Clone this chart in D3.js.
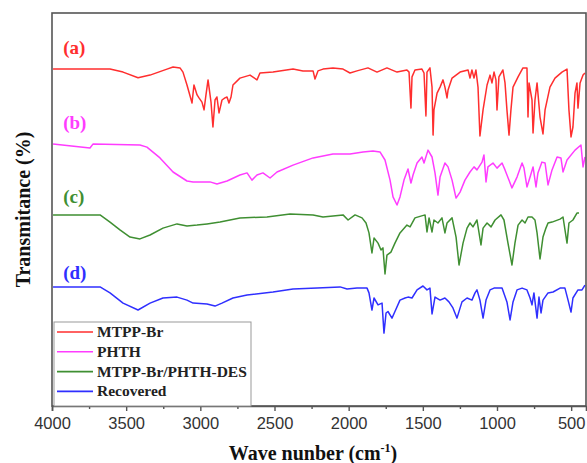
<!DOCTYPE html>
<html>
<head>
<meta charset="utf-8">
<script src="https://cdn.jsdelivr.net/npm/d3@7"></script>
<style>
  html, body { margin: 0; padding: 0; background: #fff; }
  svg { display: block; }
</style>
</head>
<body>
<svg id="chart" width="587" height="463"></svg>
<script>
// ---- Data (wavenumber cm-1, transmittance in arbitrary stacked units) ----
const seriesNames = ["MTPP-Br", "PHTH", "MTPP-Br/PHTH-DES", "Recovered"];
const seriesLetters = ["(a)", "(b)", "(c)", "(d)"];
const seriesColors = ["#ff2e2e", "#ff3cff", "#3f8f32", "#2f2fff"];
const majorTicks = [4000, 3500, 3000, 2500, 2000, 1500, 1000, 500];
const minorTicks = [3750, 3250, 2750, 2250, 1750, 1250, 750];

const mtppBr = [
  [3993,112.3],[3676,112.3],[3609,112.3],[3521,111.3],[3420,109.4],[3339,110.3],[3225,112.3],
  [3184,113],[3137,112.7],[3117,111.3],[3090,107],[3056,101],[3043,107],[3022,103.7],[3009,102.7],
  [2989,101.3],[2975,98.7],[2962,103.7],[2948,108.7],[2928,101.3],[2915,93],[2901,102],[2888,103],
  [2874,97.7],[2854,102],[2834,102.7],[2820,103],[2807,101],[2793,103],[2780,107],[2733,109.3],
  [2665,110.3],[2618,108.7],[2598,111],[2510,111.3],[2375,112.3],[2308,111.7],[2240,111.7],
  [2227,109],[2207,111.7],[2173,112.3],[2106,112.7],[2038,112.3],[1991,111],[1944,111.7],
  [1870,112.7],[1809,111.3],[1742,112.7],[1674,111.3],[1607,112],[1593,111.3],[1580,99.3],
  [1573,109.7],[1553,112],[1506,112.3],[1492,111],[1479,96.7],[1472,111.3],[1452,112.7],
  [1438,106.3],[1431,90.3],[1425,98.7],[1404,104.3],[1384,106.3],[1364,108.7],[1351,106.3],
  [1337,102.7],[1330,105.3],[1303,109.3],[1249,111.3],[1195,112],[1182,109.3],[1169,112],
  [1155,109.3],[1142,112],[1128,106.3],[1115,90],[1094,98.7],[1067,107],[1047,110.3],[1034,107.7],
  [1020,111.3],[1007,108.7],[1000,98.7],[987,109.7],[960,112],[946,107.7],[933,98.7],[919,90.3],
  [906,98.7],[892,106.3],[858,109.7],[825,112.7],[798,112.7],[791,96.3],[784,107.7],[764,102],
  [757,91],[744,102],[730,107.7],[710,96.3],[690,90.7],[676,98.7],[643,106.3],[609,109.3],
  [562,111.3],[528,112.3],[515,98.7],[501,89.7],[488,93],[474,104.3],[461,107.7],[454,99.3],
  [440,107.7],[420,110.3],[407,111]
];

const phth = [
  [3993,87.3],[3744,86],[3724,87.3],[3407,87],[3360,86.3],[3272,82.7],[3184,78],[3090,75],
  [3049,74.7],[3002,74.7],[2935,74.7],[2888,74],[2820,75],[2733,77],[2685,77.7],[2652,75.3],
  [2618,77],[2578,77.7],[2530,76],[2483,78],[2375,80.3],[2240,82.7],[2106,84],[1991,84],
  [1903,84.7],[1836,85],[1789,84.7],[1755,82],[1721,75.3],[1701,69.7],[1674,67],[1654,69.7],
  [1627,75.3],[1600,79],[1580,74.3],[1566,77],[1539,81],[1506,83],[1492,81],[1465,85.3],
  [1438,83],[1418,77.7],[1398,70.3],[1384,76.3],[1351,81],[1330,79.7],[1303,75.3],[1276,69.3],
  [1249,71.3],[1216,75.3],[1182,78],[1155,79.7],[1135,78.7],[1101,81.3],[1088,83.7],[1074,74.7],
  [1061,79.7],[1027,81],[1000,79.3],[966,81],[946,78.7],[899,72.7],[865,76.3],[831,81],
  [818,79.3],[798,73],[777,76.3],[757,79.7],[737,73],[724,77.7],[697,81.3],[676,81],[656,73.7],
  [629,78.7],[595,83],[569,82.7],[555,78],[528,82],[474,85.3],[434,87],[420,79.7],[407,83]
];

const des = [
  [3993,63.7],[3676,63.7],[3609,61.3],[3542,58.7],[3474,56.3],[3407,55.7],[3339,57],[3252,59.3],
  [3157,60.7],[3090,60],[3022,60.3],[2955,60.7],[2867,61.3],[2733,62.7],[2551,63],[2395,64],
  [2240,63.7],[2173,63],[2038,63.7],[2004,62],[1957,63.7],[1910,62.7],[1883,61],[1863,57.7],
  [1843,51],[1829,56],[1802,54.3],[1782,52],[1769,52.7],[1755,44],[1742,50.3],[1715,51.3],
  [1688,54.3],[1654,57.7],[1607,60.3],[1586,59.7],[1553,62.7],[1485,63.7],[1472,58],[1458,62.7],
  [1438,58],[1425,62],[1398,61],[1371,62.7],[1351,57.7],[1337,61],[1303,62.7],[1276,56.3],
  [1256,47],[1229,54.3],[1202,59.3],[1182,61],[1162,59.7],[1135,62],[1108,53.7],[1094,59.3],
  [1067,61],[1040,59.7],[1013,62],[973,63.7],[953,62],[926,54.3],[899,47],[879,54.3],[858,60.3],
  [831,62],[811,61],[791,63],[764,63],[744,62],[730,57.7],[710,49],[690,56.3],[670,59.3],
  [656,61],[629,61.3],[575,62.3],[555,63],[528,54.3],[515,61],[488,62],[461,64.3],[447,64.3]
];

const recovered = [
  [3993,39.7],[3676,39.7],[3609,37.7],[3521,34.3],[3420,32],[3339,34.3],[3252,36],[3157,36.3],
  [3090,35.3],[3049,34.3],[2955,34],[2901,33.3],[2854,34.3],[2780,36],[2685,37],[2510,38],
  [2375,39],[2213,39.3],[2058,39.7],[2011,39],[1944,39.3],[1876,39.3],[1863,37.7],[1843,32],
  [1829,36],[1802,33.7],[1775,34.3],[1762,24.3],[1748,31],[1735,31.5],[1708,29.3],[1688,31.5],
  [1654,35.3],[1620,36],[1600,36.3],[1573,36],[1539,38.7],[1499,40],[1472,38.7],[1452,39.3],
  [1438,30.7],[1418,36.3],[1384,35.3],[1351,36],[1324,34.7],[1297,32.7],[1270,29.3],[1236,34.7],
  [1202,36],[1169,35.3],[1148,37.7],[1135,38.7],[1115,35.3],[1094,29.3],[1074,35.3],[1047,38.7],
  [1020,39.3],[966,39.3],[933,34.7],[912,28.7],[892,34.7],[865,38.7],[831,39.3],[798,38.7],
  [777,36],[764,33.7],[751,37.7],[730,29.3],[717,36.3],[703,31],[690,35.3],[656,37.7],[622,38],
  [575,39.3],[542,39.3],[521,35.3],[501,31.3],[488,36],[454,38.7],[427,38.7],[407,40.3]
];

const allSeries = [mtppBr, phth, des, recovered];
const letterLevels = [117.5, 92.5, 67.8, 42.3]; // vertical placement of (a)-(d) in data units

// ---- Layout ----
const svg = d3.select("#chart");
const margin = { left: 52, top: 13, right: 1, bottom: 57 };
const W = 587, H = 463;
const x0 = margin.left, x1 = W - margin.right, y0 = margin.top, y1 = H - margin.bottom;

const x = d3.scaleLinear().domain([4000, 400]).range([x0, x1]);
const y = d3.scaleLinear().domain([0, 131]).range([y1, y0]);

svg.append("defs").append("clipPath").attr("id", "plotClip")
  .append("rect").attr("x", x0).attr("y", y0).attr("width", x1 - x0).attr("height", y1 - y0);

// curves
const line = d3.line().x(d => x(d[0])).y(d => y(d[1]));
const g = svg.append("g").attr("clip-path", "url(#plotClip)");
allSeries.forEach((s, i) => {
  g.append("path").datum(s)
    .attr("d", line)
    .attr("fill", "none")
    .attr("stroke", seriesColors[i])
    .attr("stroke-width", 1.5)
    .attr("stroke-linejoin", "round");
});

// letters
seriesLetters.forEach((t, i) => {
  svg.append("text")
    .attr("x", x(3925)).attr("y", y(letterLevels[i]))
    .attr("font-family", "'Liberation Serif', 'Times New Roman', serif")
    .attr("font-weight", "bold").attr("font-size", 19)
    .attr("fill", seriesColors[i]).text(t);
});

// frame
svg.append("rect").attr("x", x0).attr("y", y0).attr("width", x1 - x0).attr("height", y1 - y0)
  .attr("fill", "none").attr("stroke", "#555").attr("stroke-width", 1.6);

// x axis
const axis = d3.axisBottom(x).tickValues(majorTicks).tickSize(5).tickPadding(6).tickFormat(d3.format("d"));
const ax = svg.append("g").attr("transform", `translate(0,${y1})`).call(axis);
ax.select(".domain").attr("stroke", "#555").attr("stroke-width", 1.6);
ax.selectAll(".tick line").attr("stroke", "#555").attr("stroke-width", 1.4);
ax.selectAll(".tick text").attr("font-family", "'Liberation Sans', Arial, sans-serif")
  .attr("font-size", 16.5).attr("fill", "#333");
const minorAxis = d3.axisBottom(x).tickValues(minorTicks).tickSize(3).tickFormat("");
const mx = svg.append("g").attr("transform", `translate(0,${y1})`).call(minorAxis);
mx.select(".domain").remove();
mx.selectAll(".tick line").attr("stroke", "#555").attr("stroke-width", 1.4);

// axis titles
const xt = svg.append("text")
  .attr("x", 313).attr("y", 460).attr("text-anchor", "middle")
  .attr("font-family", "'Liberation Serif', 'Times New Roman', serif")
  .attr("font-weight", "bold").attr("font-size", 20).attr("fill", "#111");
xt.append("tspan").text("Wave nunber (cm");
xt.append("tspan").attr("font-size", 12).attr("dy", -8).text("-1");
xt.append("tspan").attr("dy", 8).text(")");

svg.append("text")
  .attr("transform", `translate(30,${(y0 + y1) / 2}) rotate(-90)`)
  .attr("text-anchor", "middle")
  .attr("font-family", "'Liberation Serif', 'Times New Roman', serif")
  .attr("font-weight", "bold").attr("font-size", 20).attr("fill", "#111")
  .text("Transmitance (%)");

// legend
const lg = svg.append("g");
lg.append("rect").attr("x", 54).attr("y", 322).attr("width", 197).attr("height", y1 - 322)
  .attr("fill", "#fff").attr("stroke", "#999").attr("stroke-width", 1);
seriesNames.forEach((n, i) => {
  const yy = 332 + i * 19.8;
  lg.append("line").attr("x1", 57).attr("x2", 93).attr("y1", yy).attr("y2", yy)
    .attr("stroke", seriesColors[i]).attr("stroke-width", 1.6);
  lg.append("text").attr("x", 97).attr("y", yy + 5)
    .attr("font-family", "'Liberation Serif', 'Times New Roman', serif")
    .attr("font-weight", "bold").attr("font-size", 15.5).attr("fill", "#222").text(n);
});
</script>
</body>
</html>
